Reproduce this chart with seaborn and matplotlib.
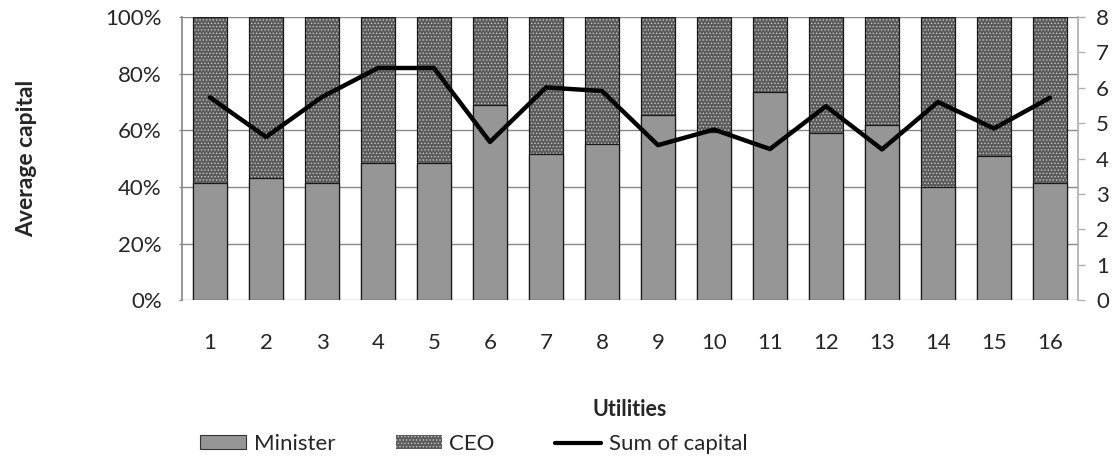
import pandas as pd
import seaborn as sns
import matplotlib
import matplotlib.pyplot as plt
from matplotlib.patches import Patch
from matplotlib.lines import Line2D

matplotlib.use("Agg")

# dane
utilities = [str(i) for i in range(1, 17)]
minister_pct = [41.5, 43.0, 41.5, 48.5, 48.5, 69.0, 51.5, 55.0, 65.5, 59.5, 73.5, 59.0, 62.0, 40.0, 51.0, 41.5]
ceo_pct = [58.5, 57.0, 58.5, 51.5, 51.5, 31.0, 48.5, 45.0, 34.5, 40.5, 26.5, 41.0, 38.0, 60.0, 49.0, 58.5]
sum_capital = [5.73, 4.61, 5.74, 6.56, 6.56, 4.47, 6.01, 5.91, 4.38, 4.82, 4.27, 5.48, 4.26, 5.60, 4.85, 5.72]

sns.set_theme(style="white")
plt.rcParams["font.family"] = ["Lato", "DejaVu Sans"]
plt.rcParams["hatch.linewidth"] = 0.6

df = pd.DataFrame({
    "utility": utilities,
    "Minister": minister_pct,
    "CEO": ceo_pct,
    "sum": sum_capital,
})
df["total"] = df["Minister"] + df["CEO"]
df["pos"] = range(len(df))

fig = plt.figure(figsize=(11.15, 4.61), dpi=100)
ax = fig.add_axes([0.1632, 0.349, 0.8036, 0.614])

grey = "#969696"
hatch_bg = "#5c5c5c"
hatch_fg = "#c4c4c4"
hatch = "....."

# CEO (nad Minister) - wypelnienie w kratke
sns.barplot(data=df, x="utility", y="total", color=hatch_bg, saturation=1,
            width=0.62, ax=ax, linewidth=0, edgecolor=hatch_fg)
for p in ax.patches:
    p.set_hatch(hatch)
# obrys calego slupka
sns.barplot(data=df, x="utility", y="total", color="#1a1a1a", fill=False,
            width=0.62, ax=ax, linewidth=0.9)
# Minister
sns.barplot(data=df, x="utility", y="Minister", color=grey, saturation=1,
            width=0.62, ax=ax, linewidth=0.9, edgecolor="#1a1a1a")

ax.set_ylim(0, 100)
ax.set_yticks(range(0, 101, 20))
ax.set_yticklabels([f"{v}%" for v in range(0, 101, 20)])
ax.set_axisbelow(True)
ax.yaxis.grid(True, color="#8a8a8a", linewidth=1)
ax.tick_params(axis="x", length=0, pad=24, labelsize=16)
ax.tick_params(axis="y", left=True, length=2.5, width=1, color="#8a8a8a",
               pad=12, labelsize=16)
for side in ["top", "right", "bottom"]:
    ax.spines[side].set_visible(False)
ax.spines["left"].set_color("#8a8a8a")
ax.set_xlabel("Utilities", fontsize=15.5, fontweight="bold")
ax.set_ylabel("Average capital", fontsize=16.5, fontweight="bold")
ax.xaxis.set_label_coords(0.5, -0.35)
ax.yaxis.set_label_coords(-0.162, 0.5)

ax2 = ax.twinx()
sns.lineplot(data=df, x="pos", y="sum", color="black", linewidth=3.2, ax=ax2)
ax2.set_ylim(0, 8)
ax2.set_yticks(range(0, 9))
ax2.set_ylabel("")
ax2.tick_params(axis="y", right=True, length=5, width=1, color="#b0b0b0",
                pad=8, labelsize=16)
for side in ["top", "left", "bottom"]:
    ax2.spines[side].set_visible(False)
ax2.spines["right"].set_color("#b0b0b0")
ax.set_xlim(-0.5, len(df) - 0.5)
ax2.set_xlim(-0.5, len(df) - 0.5)

handles = [
    Patch(facecolor=grey, edgecolor="#333333", linewidth=0.8, label="Minister"),
    Patch(facecolor=hatch_bg, edgecolor=hatch_fg, hatch=hatch, linewidth=0, label="CEO"),
    Line2D([0], [0], color="black", linewidth=3, label="Sum of capital"),
]
fig.legend(handles=handles, loc="center left", bbox_to_anchor=(200 / 1115, 17 / 461),
           ncol=3, frameon=False, fontsize=16, handlelength=2.07, handleheight=0.6,
           columnspacing=2.7, handletextpad=0.36, borderpad=0, borderaxespad=0)

plt.savefig("out.png", dpi=100)
